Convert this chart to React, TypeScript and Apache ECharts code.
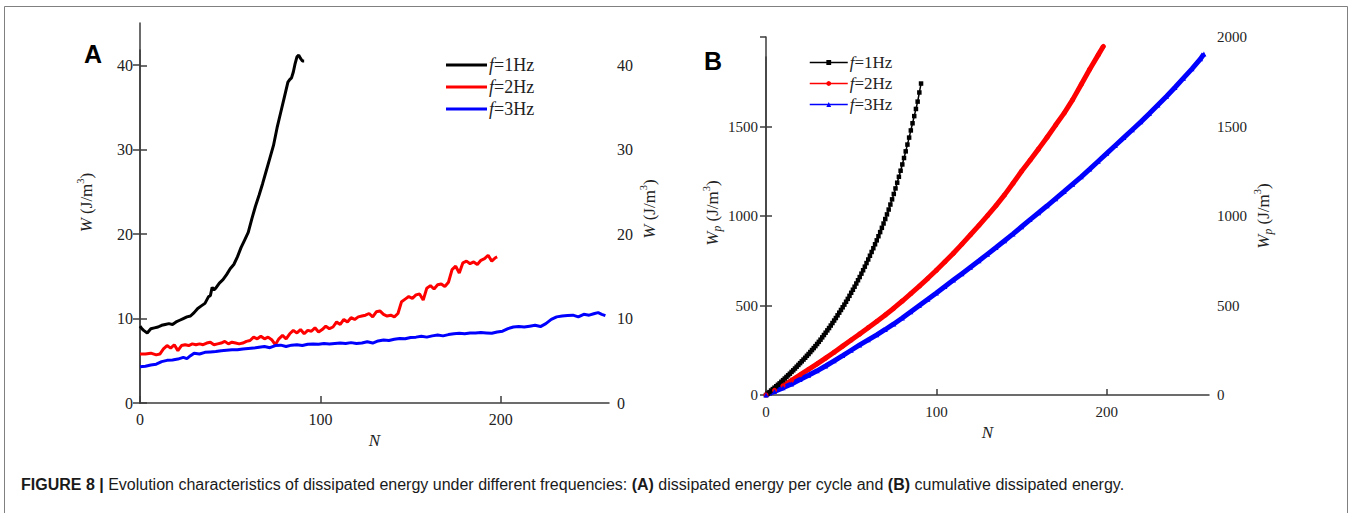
import React, { useEffect, useRef } from 'react';
import * as echarts from 'echarts';

// ---------- Panel A: dissipated energy per cycle W (J/m3) vs N ----------
const blackA: [number, number][] = [
  [0, 9.1], [1, 8.8], [2, 8.6], [4, 8.3], [6, 8.8], [8, 8.9], [10, 9.0], [12, 9.2], [14, 9.3], [16, 9.4],
  [18, 9.3], [20, 9.6], [22, 9.8], [24, 10.0], [26, 10.2], [28, 10.3], [30, 10.7], [32, 11.2], [34, 11.5],
  [36, 11.8], [38, 12.6], [39, 12.7], [40, 13.7], [41, 13.4], [42, 13.6], [44, 14.2], [46, 14.6], [48, 15.2],
  [50, 15.9], [52, 16.4], [54, 17.3], [56, 18.4], [58, 19.3], [60, 20.2], [62, 21.8], [64, 23.3], [66, 24.6],
  [68, 26.0], [70, 27.5], [72, 29.0], [74, 30.5], [76, 32.6], [78, 34.4], [80, 36.2], [82, 38.0], [83, 38.3],
  [84, 38.5], [85, 39.2], [86, 40.2], [87, 41.0], [88, 41.2], [89, 40.8], [90, 40.5], [91, 40.5],
];
const redA: [number, number][] = [
  [0, 5.8], [3, 5.8], [6, 5.9], [9, 5.7], [11, 5.8], [13, 6.4], [15, 6.8], [17, 6.5], [19, 6.9], [21, 6.2],
  [23, 6.8], [25, 6.9], [27, 6.8], [29, 7.0], [31, 6.9], [33, 7.0], [35, 6.9], [37, 7.1], [39, 7.2], [41, 6.9],
  [43, 7.0], [45, 7.1], [47, 7.3], [49, 7.0], [51, 7.2], [53, 7.1], [55, 7.0], [57, 7.1], [59, 7.3], [61, 7.4],
  [63, 7.8], [65, 7.6], [67, 7.9], [69, 7.6], [71, 7.8], [73, 7.5], [75, 6.9], [77, 7.6], [79, 8.0], [81, 7.6],
  [83, 8.2], [85, 8.6], [87, 8.3], [89, 8.7], [91, 8.2], [93, 8.6], [95, 8.5], [97, 8.9], [99, 8.4], [101, 8.7],
  [103, 9.1], [105, 8.8], [107, 9.0], [109, 9.6], [111, 9.3], [113, 9.9], [115, 9.6], [117, 10.1], [119, 9.9],
  [121, 10.2], [123, 10.3], [125, 10.4], [127, 10.6], [129, 10.2], [131, 10.8], [133, 10.9], [135, 10.5],
  [137, 10.3], [139, 10.4], [141, 10.2], [143, 10.6], [145, 12.0], [147, 12.3], [149, 12.6], [151, 12.4],
  [153, 12.8], [155, 12.9], [157, 12.2], [159, 13.6], [161, 13.9], [163, 13.5], [165, 14.0], [167, 14.1],
  [169, 13.8], [171, 14.3], [173, 15.8], [175, 16.2], [177, 15.4], [179, 16.6], [181, 16.8], [183, 16.5],
  [185, 16.7], [187, 16.4], [189, 16.9], [191, 17.1], [193, 17.5], [195, 16.8], [197, 17.2], [198, 17.3],
];
const blueA: [number, number][] = [
  [0, 4.3], [3, 4.35], [6, 4.5], [9, 4.6], [12, 4.9], [15, 5.05], [18, 5.1], [21, 5.2], [24, 5.4], [26, 5.25],
  [28, 5.6], [30, 5.9], [33, 5.8], [36, 6.0], [39, 6.05], [42, 6.1], [45, 6.2], [48, 6.25], [51, 6.3], [54, 6.3],
  [57, 6.4], [60, 6.45], [63, 6.5], [66, 6.6], [69, 6.7], [72, 6.55], [75, 6.8], [78, 6.85], [81, 6.7], [84, 6.85],
  [87, 6.9], [90, 6.8], [93, 6.95], [96, 7.0], [99, 6.95], [102, 7.05], [105, 7.0], [108, 7.05], [111, 7.1],
  [114, 7.05], [117, 7.15], [120, 7.05], [123, 7.1], [126, 7.25], [129, 7.1], [132, 7.35], [135, 7.45], [138, 7.4],
  [141, 7.55], [144, 7.65], [147, 7.6], [150, 7.75], [153, 7.8], [156, 7.9], [159, 7.8], [162, 7.95], [165, 8.05],
  [168, 7.95], [171, 8.1], [174, 8.2], [177, 8.25], [180, 8.2], [183, 8.3], [186, 8.3], [189, 8.35], [192, 8.3],
  [195, 8.25], [198, 8.4], [201, 8.5], [204, 8.8], [207, 9.0], [210, 9.05], [213, 9.0], [216, 9.1], [219, 9.2],
  [222, 9.05], [225, 9.4], [228, 9.9], [231, 10.2], [234, 10.3], [237, 10.35], [240, 10.4], [243, 10.2],
  [246, 10.5], [249, 10.4], [252, 10.6], [254, 10.7], [256, 10.5], [258, 10.35],
];

// ---------- Panel B: cumulative dissipated energy Wp (J/m3) vs N ----------
// f=1Hz, one value per cycle, N = 0..91
const blackBCum: number[] = [
  0, 8, 16, 25, 33, 41, 49, 57, 65, 74, 83, 92, 101, 110, 119, 129, 138, 148, 158, 168,
  178, 188, 198, 208, 219, 229, 240, 251, 262, 273, 285, 297, 309, 322, 335, 348, 361, 374, 388, 402,
  416, 430, 445, 460, 475, 490, 505, 521, 537, 554, 571, 588, 605, 623, 641, 659, 678, 697, 717, 737,
  757, 778, 799, 820, 842, 864, 887, 910, 934, 958, 983, 1009, 1036, 1064, 1093, 1123, 1154, 1186, 1219, 1253,
  1288, 1324, 1361, 1399, 1438, 1478, 1518, 1558, 1598, 1639, 1690, 1740,
];
const redB: [number, number][] = [
  [0, 0], [5, 26], [10, 52], [15, 82], [20, 112], [25, 143], [30, 174], [35, 206], [40, 239], [45, 273],
  [50, 307], [55, 341], [60, 376], [65, 411], [70, 447], [75, 485], [80, 525], [85, 566], [90, 608], [95, 652],
  [100, 697], [105, 744], [110, 792], [115, 843], [120, 895], [125, 948], [130, 1002], [135, 1058], [140, 1118],
  [145, 1183], [150, 1250], [155, 1312], [160, 1375], [165, 1440], [170, 1508], [175, 1575], [180, 1650],
  [185, 1735], [190, 1820], [195, 1900], [198, 1948],
];
const blueB: [number, number][] = [
  [0, 0], [5, 20], [10, 40], [15, 62], [20, 86], [25, 110], [30, 135], [35, 162], [40, 191], [45, 220],
  [50, 250], [55, 280], [60, 308], [65, 336], [70, 366], [75, 397], [80, 430], [85, 465], [90, 500], [95, 535],
  [100, 570], [105, 606], [110, 642], [115, 678], [120, 714], [125, 750], [130, 787], [135, 824], [140, 862],
  [145, 900], [150, 940], [155, 980], [160, 1018], [165, 1057], [170, 1097], [175, 1137], [180, 1178],
  [185, 1219], [190, 1262], [195, 1306], [200, 1350], [205, 1394], [210, 1438], [215, 1482], [220, 1526],
  [225, 1572], [230, 1620], [235, 1668], [240, 1718], [245, 1770], [250, 1822], [255, 1878], [257, 1905],
];

const freqLabels = ['1Hz', '2Hz', '3Hz'];
const seriesColors = ['#000000', '#ff0000', '#0000ff'];
const xTicks = [0, 100, 200];
const yTicksA = [0, 10, 20, 30, 40];
const yTicksBLeft = [0, 500, 1000, 1500];
const captionText =
  '{b|FIGURE 8 |} Evolution characteristics of dissipated energy under different frequencies: {b|(A)} dissipated energy per cycle and {b|(B)} cumulative dissipated energy.';

const SERIF = 'Liberation Serif, Times New Roman, serif';
const SANS = 'Liberation Sans, Arial, sans-serif';
const AXIS = '#3c3c3c';
const TXT = '#222222';

export default function App() {
  const ref = useRef<HTMLDivElement>(null);
  useEffect(() => {
    if (!ref.current) return;
    const chart = echarts.init(ref.current, undefined, { renderer: 'svg' });

    const plain = (v: number) => String(v);
    const axisLine = { show: true, lineStyle: { color: AXIS, width: 1.5 } };
    const tick = (len: number) => ({ show: true, inside: true, length: len, lineStyle: { color: AXIS, width: 1.5 } });
    const lbl = (size: number, margin: number) => ({ color: TXT, fontFamily: SERIF, fontSize: size, margin, formatter: plain });
    const nameStyle = (size: number, padding: number[]) => ({
      color: TXT,
      fontFamily: SERIF,
      fontSize: size,
      lineHeight: 22,
      padding,
      rich: {
        i: { fontStyle: 'italic', fontFamily: SERIF, fontSize: size, lineHeight: 22, color: TXT },
        t: { fontFamily: SERIF, fontSize: size, lineHeight: 22, color: TXT },
        sup: { fontFamily: SERIF, fontSize: 10.5, lineHeight: 10, verticalAlign: 'top', color: TXT },
        sub: { fontFamily: SERIF, fontStyle: 'italic', fontSize: 11.5, lineHeight: 11, verticalAlign: 'bottom', color: TXT },
      },
    });
    const nameA = '{i|W}{t| (J/m}{sup|3}{t|)}';
    const nameB = '{i|W}{sub|p}{t| (J/m}{sup|3}{t|)}';
    const xName = (gap: number) => ({
      name: '{i|N}',
      nameLocation: 'middle',
      nameGap: gap,
      nameTextStyle: { rich: { i: { fontStyle: 'italic', fontFamily: SERIF, fontSize: 17, color: TXT } } },
    });
    const legendText = (size: number, lh: number) => ({
      color: TXT,
      fontFamily: SERIF,
      fontSize: size,
      lineHeight: lh,
      padding: [0, 0, 0, -3],
      rich: {
        i: { fontStyle: 'italic', fontFamily: SERIF, fontSize: size, lineHeight: lh, color: TXT },
        t: { fontFamily: SERIF, fontSize: size, lineHeight: lh, color: TXT },
      },
    });
    const legendFmt = (name: string) => {
      const idx = Number(name.slice(1)) - 1;
      return '{i|f}{t|=' + freqLabels[idx] + '}';
    };

    const option: any = {
      animation: false,
      backgroundColor: '#ffffff',
      grid: [
        { left: 140, right: 743, top: 23, bottom: 110 },
        { left: 140, right: 743, top: 50, bottom: 110 },
        { left: 766, right: 143, top: 37, bottom: 118 },
        { left: 766, right: 143, top: 57, bottom: 118 },
      ],
      xAxis: [
        {
          gridIndex: 0, type: 'value', min: 0, max: 260,
          axisLine, axisTick: { ...tick(7), customValues: xTicks },
          axisLabel: { ...lbl(16, 8), customValues: xTicks }, splitLine: { show: false },
          ...xName(23),
        },
        { gridIndex: 1, type: 'value', min: 0, max: 260, show: false },
        {
          gridIndex: 2, type: 'value', min: 0, max: 260,
          axisLine, axisTick: { ...tick(6), customValues: xTicks },
          axisLabel: { ...lbl(15, 9), customValues: xTicks }, splitLine: { show: false },
          ...xName(23),
        },
        { gridIndex: 3, type: 'value', min: 0, max: 260, show: false },
      ],
      yAxis: [
        {
          gridIndex: 0, type: 'value', position: 'right', min: 0, max: 45,
          axisLine, axisTick: { ...tick(7), customValues: yTicksA },
          axisLabel: { ...lbl(16, 8), customValues: yTicksA }, splitLine: { show: false },
          name: nameA, nameLocation: 'middle', nameGap: 29, nameTextStyle: nameStyle(17, [0, 0, 0, 8]),
        },
        {
          gridIndex: 1, type: 'value', position: 'left', min: 0, max: 41.83,
          axisLine, axisTick: { ...tick(7), customValues: yTicksA },
          axisLabel: { ...lbl(16, 7), customValues: yTicksA }, splitLine: { show: false },
          name: nameA, nameLocation: 'middle', nameGap: 43, nameTextStyle: nameStyle(17, [0, 0, 0, 48]),
        },
        {
          gridIndex: 2, type: 'value', position: 'right', min: 0, max: 2000, interval: 500,
          axisLine, axisTick: tick(6), axisLabel: lbl(15, 8), splitLine: { show: false },
          name: nameB, nameLocation: 'middle', nameGap: 43, nameTextStyle: nameStyle(17, [0, 0, 0, 0]),
        },
        {
          gridIndex: 3, type: 'value', position: 'left', min: 0, max: 1890,
          axisLine, axisTick: { ...tick(6), customValues: yTicksBLeft },
          axisLabel: { ...lbl(15, 8), customValues: yTicksBLeft }, splitLine: { show: false },
          name: nameB, nameLocation: 'middle', nameGap: 43, nameTextStyle: nameStyle(17, [0, 0, 0, 26]),
        },
      ],
      legend: [
        {
          orient: 'vertical', left: 441, top: 49, itemGap: 0, itemWidth: 41, itemHeight: 3,
          data: [
            { name: 'A1', icon: 'rect' },
            { name: 'A2', icon: 'rect' },
            { name: 'A3', icon: 'rect' },
          ],
          formatter: legendFmt, textStyle: legendText(18, 22), selectedMode: false,
        },
        {
          orient: 'vertical', left: 804, top: 47, itemGap: 0, itemWidth: 38, itemHeight: 6,
          data: ['B1', 'B2', 'B3'],
          lineStyle: { width: 1.5 },
          formatter: legendFmt, textStyle: legendText(17, 21), selectedMode: false,
        },
      ],
      series: [
        { name: 'A1', type: 'line', xAxisIndex: 0, yAxisIndex: 0, data: blackA, symbol: 'none', color: seriesColors[0], lineStyle: { width: 3 } },
        { name: 'A2', type: 'line', xAxisIndex: 0, yAxisIndex: 0, data: redA, symbol: 'none', color: seriesColors[1], lineStyle: { width: 3 } },
        { name: 'A3', type: 'line', xAxisIndex: 0, yAxisIndex: 0, data: blueA, symbol: 'none', color: seriesColors[2], lineStyle: { width: 3 } },
        {
          name: 'B1', type: 'line', xAxisIndex: 2, yAxisIndex: 2,
          data: blackBCum.map((v, i) => [i, v]), symbol: 'rect', symbolSize: 4.5, showSymbol: true,
          color: seriesColors[0], lineStyle: { width: 1.5 },
        },
        {
          name: 'B2', type: 'line', xAxisIndex: 2, yAxisIndex: 2, data: redB, symbol: 'circle', symbolSize: 5,
          showSymbol: true, color: seriesColors[1], lineStyle: { width: 5 },
        },
        {
          name: 'B3', type: 'line', xAxisIndex: 2, yAxisIndex: 2, data: blueB, symbol: 'triangle', symbolSize: 5,
          showSymbol: true, color: seriesColors[2], lineStyle: { width: 5 },
        },
      ],
      graphic: [
        {
          type: 'rect', silent: true, z: -1,
          shape: { x: 4.5, y: 6.5, width: 1343, height: 600 },
          style: { fill: 'none', stroke: '#808080', lineWidth: 1 },
        },
        {
          type: 'text', x: 84, y: 54, silent: true,
          style: { text: 'A', fontFamily: SANS, fontWeight: 'bold', fontSize: 25, fill: '#000', verticalAlign: 'middle' },
        },
        {
          type: 'text', x: 704, y: 61, silent: true,
          style: { text: 'B', fontFamily: SANS, fontWeight: 'bold', fontSize: 25, fill: '#000', verticalAlign: 'middle' },
        },
        {
          type: 'text', x: 21, y: 484, silent: true,
          style: {
            text: captionText, fontFamily: SANS, fontSize: 16, fill: '#1a1a1a', verticalAlign: 'middle',
            rich: { b: { fontFamily: SANS, fontSize: 16, fontWeight: 'bold', fill: '#1a1a1a' } },
          },
        },
      ],
    };
    chart.setOption(option);
    return () => chart.dispose();
  }, []);
  return <div ref={ref} style={{ position: 'fixed', left: 0, top: 0, width: 1352, height: 513, background: '#fff' }} />;
}
